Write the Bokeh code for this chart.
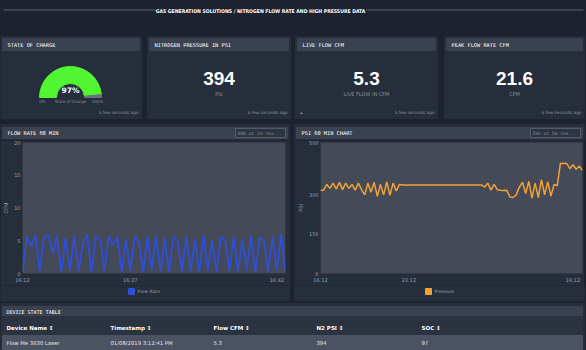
import math
from bokeh.plotting import figure
from bokeh.models import Range1d, FixedTicker, Spacer
from bokeh.layouts import column, row
from bokeh.embed import file_html
from bokeh.resources import INLINE
from bokeh.core.properties import value

# ---------------- data ----------------
dashboard_title = "GAS GENERATION SOLUTIONS / NITROGEN FLOW RATE AND HIGH PRESSURE DATA"
card_titles = ["STATE OF CHARGE", "NITROGEN PRESSURE IN PSI", "LIVE FLOW CFM", "PEAK FLOW RATE CFM"]
state_of_charge = 97
stat_values = ["394", "5.3", "21.6"]
stat_units = ["PSI", "LIVE FLOW IN CFM", "CFM"]
updated_text = "a few seconds ago"

flow_title = "FLOW RATE 60 MIN"
flow_res = "60m at 1m res..."
flow_legend = "Flow Rate"
flow_rate = [0.3, 5.6, 4.2, 5.8, 0.4, 5.5, 5.9, 3.1, 5.7, 0.2, 5.4, 0.5, 5.8, 0.3, 4.6,
             5.9, 0.2, 5.6, 5.1, 0.4, 5.7, 4.4, 5.5, 0.3, 5.2, 0.4, 5.6, 4.8, 0.2, 5.5,
             0.6, 5.8, 0.3, 5.4, 0.2, 5.6, 4.9, 0.3, 5.7, 0.4, 5.3, 0.2, 5.8, 0.5, 5.1,
             0.3, 5.6, 5.0, 0.4, 5.5, 0.2, 5.2, 0.6, 5.7, 0.3, 5.4, 5.0, 0.2, 5.6, 0.4,
             6.0, 0.3]
flow_tick_index = [0, 25, 59]
flow_tick_labels = ["16:12", "16:27", "16:42"]
flow_y_ticks = [0, 5, 10, 15, 20]

psi_title = "PSI 60 MIN CHART"
psi_res = "24h at 5m res..."
psi_legend = "Pressure"
pressure = [318, 318, 340, 325, 345, 322, 348, 320, 345, 325, 340, 318, 345, 320, 300,
            345, 310, 348, 295, 340, 300, 350, 298, 345, 315, 340, 338,
            338, 338, 338, 338, 338, 338, 338, 338, 338, 338, 338, 338, 338, 338, 338,
            338, 338, 338, 338, 338, 338, 338, 338, 338, 338,
            330, 345, 318, 340, 320,
            318, 317, 318,
            292, 290, 300,
            330, 348, 305, 352, 288, 345, 290, 358, 300, 350,
            295, 340, 335,
            420, 421, 420, 400, 415, 398, 410, 393]
psi_tick_index = [0, 28, 80]
psi_tick_labels = ["16:12", "23:12", "16:12"]
psi_y_ticks = [0, 150, 300, 500]

table_title = "DEVICE STATE TABLE"
table_columns = ["Device Name", "Timestamp", "Flow CFM", "N2 PSI", "SOC"]
table_row = ["Flow Me 3630 Laser", "01/08/2019 3:12:41 PM", "5.3", "394", "97"]

# ---------------- style ----------------
BG = "#1c2230"
PANEL = "#262d3b"
HEAD = "#3a4151"
PLOT = "#444a58"
AX = "#9aa0ab"
SUB = "#8c929e"
GREEN = "#52f531"
BLUE = "#2f4fd8"
ORANGE = "#f0a235"
MONO = "DejaVu Sans Mono"
SANS = "DejaVu Sans"
COND = "DejaVu Sans Condensed"
BIG = "Liberation Sans"


def pix_fig(w, h, bg):
    p = figure(width=w, height=h, x_range=Range1d(0, w), y_range=Range1d(h, 0),
               output_backend="svg", toolbar_location=None, min_border=0, title=None,
               x_axis_location=None, y_axis_location=None, sizing_mode="fixed",
               background_fill_color=bg, border_fill_color=bg, outline_line_color=None)
    p.grid.visible = False
    return p


def txt(p, x, y, s, size, color, font=SANS, align="left", style="normal"):
    p.text(x=[x], y=[y], text=[s], text_font=value(font), text_font_size=value(f"{size}px"),
           text_color=color, text_align=align, text_baseline="middle", text_font_style=style)


# ---------------- top: title + cards + chart headers ----------------
top = pix_fig(586, 140, BG)
top.segment(x0=[3, 366], y0=[9.5, 9.5], x1=[155, 583], y1=[9.5, 9.5], line_color="#5a6272", line_width=1)
txt(top, 260, 10, dashboard_title, 5.1, "white", font=COND, align="center", style="bold")

cards = [(0, 141), (147, 290), (295, 437), (444, 584)]
for (l, r), t in zip(cards, card_titles):
    top.quad(left=l, right=r, top=36, bottom=118, color=PANEL)
    top.quad(left=l + 2, right=r - 2, top=38, bottom=50, color=HEAD)
    txt(top, l + 7, 44.5, t, 5.3, "white", font=MONO)
    txt(top, r - 3, 112, updated_text, 4.3, SUB, align="right")

# gauge
frac = state_of_charge / 100.0
g_split = math.pi * (1 - frac)
top.annular_wedge(x=70, y=97, inner_radius=14, outer_radius=31, start_angle=g_split,
                  end_angle=math.pi, color=GREEN)
top.annular_wedge(x=70, y=97, inner_radius=14, outer_radius=31, start_angle=0,
                  end_angle=g_split, color="#6b717c")
txt(top, 70, 90, f"{state_of_charge}%", 7.5, "white", align="center", style="bold")
txt(top, 42, 100.5, "0%", 4, SUB, align="center")
txt(top, 70, 100.5, "State of Charge", 4, SUB, align="center")
txt(top, 97, 100.5, "100%", 4, SUB, align="center")

for (l, r), v, u in zip(cards[1:], stat_values, stat_units):
    cx = (l + r) / 2
    txt(top, cx, 78, v, 19, "white", font=BIG, align="center", style="bold")
    txt(top, cx, 93, u, 5, SUB, align="center")
txt(top, 301, 112, "\u2022", 5, "#cfd3da", align="center")

chart_panels = [(0, 289), (294, 584)]
for (l, r), t, res in zip(chart_panels, [flow_title, psi_title], [flow_res, psi_res]):
    top.quad(left=l, right=r, top=124, bottom=140, color=PANEL)
    top.quad(left=l + 2, right=r - 2, top=127, bottom=138, color=HEAD)
    txt(top, l + 7, 132.5, t, 5.3, "white", font=MONO)
    top.quad(left=r - 54, right=r - 4, top=128, bottom=137, fill_color="#2c3341",
             line_color="#5c6473", line_width=0.8)
    txt(top, r - 52, 132.5, res, 4.6, "#8a909b", font=MONO)


# ---------------- charts ----------------
def chart_fig(w, n, ymax, left, right):
    p = figure(width=w, height=145, x_range=Range1d(0, n - 1), y_range=Range1d(0, ymax),
               output_backend="svg", toolbar_location=None, title=None, sizing_mode="fixed",
               background_fill_color=PLOT, border_fill_color=PANEL, outline_line_color=None,
               min_border_left=left, min_border_right=right, min_border_top=2, min_border_bottom=12)
    p.grid.grid_line_color = None
    for ax in p.axis:
        ax.axis_line_color = None
        ax.major_tick_line_color = None
        ax.minor_tick_line_color = None
        ax.major_tick_out = 0
        ax.major_tick_in = 0
        ax.minor_tick_out = 0
        ax.major_label_text_font_size = "5px"
        ax.major_label_text_color = AX
        ax.major_label_text_font = SANS
    p.xaxis.major_label_standoff = 3
    p.yaxis.major_label_standoff = 2
    p.yaxis.axis_label_text_font_size = "5px"
    p.yaxis.axis_label_text_font_style = "normal"
    p.yaxis.axis_label_text_color = AX
    p.yaxis.axis_label_standoff = 2
    return p


flow = chart_fig(290, len(flow_rate), 20, 22, 5)
flow.line(x=list(range(len(flow_rate))), y=flow_rate, line_color=BLUE, line_width=1.8)
flow.yaxis.ticker = FixedTicker(ticks=flow_y_ticks)
flow.xaxis.ticker = FixedTicker(ticks=flow_tick_index)
flow.xaxis.major_label_overrides = dict(zip(flow_tick_index, flow_tick_labels))
flow.yaxis.axis_label = "CFM"

psi = chart_fig(290, len(pressure), 500, 24, 2)
psi.line(x=list(range(len(pressure))), y=pressure, line_color=ORANGE, line_width=1.5)
psi.yaxis.ticker = FixedTicker(ticks=psi_y_ticks)
psi.xaxis.ticker = FixedTicker(ticks=psi_tick_index)
psi.xaxis.major_label_overrides = dict(zip(psi_tick_index, psi_tick_labels))
psi.yaxis.axis_label = "PSI"

middle = row(flow, Spacer(width=4, height=145, sizing_mode="fixed"), psi,
             Spacer(width=2, height=145, sizing_mode="fixed"),
             width=586, height=145, sizing_mode="fixed", styles={"background-color": BG})

# ---------------- bottom: legends + table ----------------
bot = pix_fig(586, 65, BG)
for (l, r) in chart_panels:
    bot.quad(left=l, right=r, top=0, bottom=15, color=PANEL)
bot.quad(left=[128, 425], right=[134, 431], top=[3, 3], bottom=[9, 9], color=[BLUE, ORANGE])
txt(bot, 137, 6, flow_legend, 4.6, AX)
txt(bot, 434, 6, psi_legend, 4.6, AX)

bot.quad(left=0, right=584, top=18, bottom=65, color=PANEL)
bot.quad(left=2, right=582, top=21, bottom=31, color=HEAD)
txt(bot, 6, 26, table_title, 5, "white", font=MONO)
bot.quad(left=2, right=582, top=31, bottom=50, color="#2b3240")
bot.quad(left=2, right=582, top=50, bottom=65, color="#4b5262")
col_x = [6, 110, 213, 316, 421]
for x, c, v in zip(col_x, table_columns, table_row):
    txt(bot, x, 42.5, c + " \u2195", 5.5, "white", style="bold")
    txt(bot, x, 57.5, v, 5.3, "#e6e8ec")

layout = column(top, middle, bot, width=586, height=350, sizing_mode="fixed",
                styles={"background-color": BG})

open("out.html", "w").write(file_html(layout, INLINE, "dashboard"))
